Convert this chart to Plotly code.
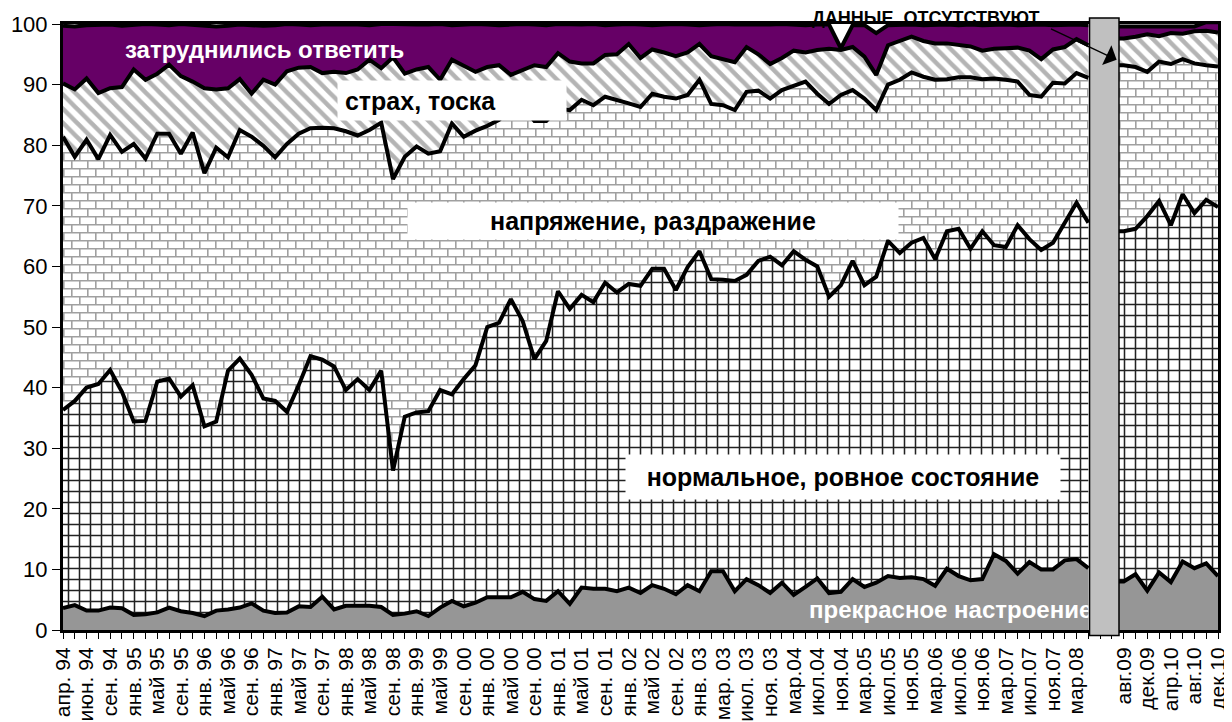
import plotly.graph_objects as go

# ---------------- data (cumulative boundaries, %, survey order) ----------------
# tick labels on every second survey; index 88 = missing survey (gap)
tick_index = list(range(0, 87, 2)) + list(range(90, 99, 2))
tick_labels = ["апр. 94", "июн. 94", "сен. 94", "янв. 95", "май 95", "сен. 95", "янв. 96",
               "май 96", "сен. 96", "янв. 97", "май 97", "сен. 97", "янв. 98", "май 98",
               "сен. 98", "янв. 99", "май 99", "сен. 00", "янв. 00", "май 00", "сен. 00",
               "янв. 01", "май 01", "сен. 01", "янв. 02", "май 02", "сен. 02", "янв. 03",
               "мар. 03", "июл. 03", "ноя. 03", "мар.04", "июл.04", "ноя.04", "мар.05",
               "июл.05", "ноя.05", "мар.06", "июл.06", "ноя.06", "мар.07", "июл.07",
               "ноя.07", "мар.08", "авг.09", "дек.09", "апр.10", "авг.10", "дек.10"]

# "прекрасное настроение"
excellent = [3.6, 4.1, 3.2, 3.2, 3.7, 3.6, 2.5, 2.6, 2.9, 3.7,
             3.1, 2.8, 2.3, 3.2, 3.4, 3.7, 4.4, 3.2, 2.8, 2.9,
             3.9, 3.8, 5.5, 3.4, 4.0, 4.0, 4.0, 3.8, 2.5, 2.7,
             3.1, 2.3, 3.7, 4.8, 3.9, 4.5, 5.4, 5.4, 5.4, 6.3,
             5.1, 4.8, 6.4, 4.3, 7.0, 6.8, 6.8, 6.4, 7.0, 6.1,
             7.4, 6.8, 5.9, 7.4, 6.4, 9.7, 9.7, 6.4, 8.4, 7.4,
             6.1, 7.8, 5.8, 7.1, 8.5, 6.1, 6.3, 8.4, 7.1, 7.8,
             8.9, 8.6, 8.7, 8.4, 7.3, 10.1, 8.9, 8.2, 8.4, 12.5,
             11.4, 9.3, 11.2, 10.0, 10.0, 11.5, 11.7, 10.2, None, 8.0,
             8.0, 9.2, 6.5, 9.5, 7.9, 11.3, 10.2, 11.0, 8.9]

# upper edge of "нормальное, ровное состояние"
normal_top = [36.3, 37.8, 40.0, 40.6, 42.9, 39.3, 34.4, 34.5, 41.0, 41.5,
              38.5, 40.4, 33.6, 34.4, 42.8, 44.8, 42.1, 38.2, 37.8, 36.0,
              40.4, 45.2, 44.6, 43.5, 39.6, 41.4, 39.6, 42.8, 26.3, 35.2,
              35.9, 36.1, 39.6, 38.9, 41.4, 43.7, 50.0, 50.7, 54.6, 51.0,
              44.7, 47.7, 55.9, 53.0, 55.3, 54.1, 57.3, 55.7, 57.1, 56.8,
              59.6, 59.6, 56.1, 59.9, 62.5, 57.9, 57.8, 57.6, 58.6, 60.9,
              61.6, 60.2, 62.5, 61.1, 60.0, 55.0, 56.9, 60.9, 56.9, 58.3,
              64.2, 62.2, 63.9, 64.7, 61.2, 65.8, 66.2, 62.9, 65.8, 63.5,
              63.2, 66.8, 64.5, 62.7, 63.9, 67.2, 70.5, 67.2, None, 65.8,
              65.8, 66.2, 68.3, 70.8, 66.8, 71.9, 68.8, 71.0, 69.8]

# upper edge of "напряжение, раздражение"
tension_top = [81.4, 78.1, 80.9, 77.7, 81.7, 78.9, 80.2, 77.8, 81.9, 81.9,
               78.6, 82.1, 75.4, 79.6, 78.0, 82.5, 81.4, 79.9, 78.0, 80.2,
               81.9, 82.8, 82.9, 82.8, 82.3, 81.6, 82.5, 83.7, 74.4, 78.1,
               79.8, 78.6, 79.0, 83.6, 81.4, 82.4, 83.2, 84.2, 86.0, 86.5,
               84.0, 84.0, 86.0, 85.8, 87.5, 86.6, 88.0, 87.5, 86.9, 86.3,
               88.5, 88.0, 87.7, 88.3, 90.8, 86.8, 86.6, 85.8, 88.8, 89.0,
               87.7, 89.1, 89.8, 90.5, 88.5, 86.8, 88.3, 89.1, 87.7, 85.8,
               90.0, 90.8, 92.0, 91.3, 90.8, 90.9, 91.2, 91.2, 90.9, 91.0,
               90.8, 90.5, 88.3, 88.0, 90.3, 90.2, 91.9, 91.1, None, 93.2,
               93.2, 92.9, 92.1, 93.8, 93.4, 94.2, 93.5, 93.2, 93.0]

# upper edge of "страх, тоска"
fear_top = [90.2, 89.2, 91.0, 88.6, 89.4, 89.6, 92.5, 90.8, 91.8, 93.3,
            91.4, 90.5, 89.4, 89.2, 89.4, 90.9, 88.5, 90.8, 90.0, 92.2,
            92.8, 92.9, 91.9, 92.1, 91.9, 92.5, 94.1, 92.7, 94.5, 91.8,
            92.5, 92.9, 90.8, 94.1, 93.1, 92.1, 92.9, 93.2, 91.6, 92.4,
            93.2, 92.9, 95.2, 93.8, 93.5, 93.5, 94.9, 95.0, 96.7, 94.4,
            95.8, 95.3, 94.7, 95.3, 96.7, 94.7, 94.2, 93.7, 96.2, 95.0,
            93.4, 94.4, 95.6, 95.3, 95.7, 95.9, 95.7, 96.2, 94.6, 91.6,
            96.5, 97.2, 97.9, 97.2, 96.8, 96.8, 96.6, 96.3, 95.6, 95.9,
            96.0, 96.1, 95.6, 94.2, 95.8, 96.2, 97.5, 96.5, None, 97.6,
            97.6, 97.9, 98.3, 98.0, 98.5, 98.4, 98.8, 98.9, 98.6]

# upper edge of "затруднились ответить" (total)
total_top = [99.7, 99.6, 99.8, 99.8, 99.9, 99.7, 99.8, 100.0, 99.9, 99.8,
             100.0, 99.9, 99.8, 99.6, 99.7, 99.9, 99.8, 99.7, 99.8, 100.0,
             99.9, 99.8, 99.9, 99.9, 100.0, 99.9, 99.8, 100.0, 100.0, 99.9,
             99.9, 99.9, 100.0, 99.8, 99.9, 100.0, 99.9, 99.8, 99.9, 100.0,
             99.9, 99.8, 100.0, 99.9, 99.9, 100.0, 99.8, 99.9, 100.0, 99.9,
             99.8, 99.9, 100.0, 99.9, 99.8, 99.9, 100.0, 99.9, 99.9, 99.8,
             99.9, 100.0, 99.9, 99.8, 99.9, 99.9, 96.0, 99.8, 99.8, 98.5,
             99.8, 99.9, 99.9, 99.8, 99.9, 99.9, 99.8, 99.9, 99.8, 99.9,
             99.9, 99.8, 99.9, 99.9, 99.8, 99.9, 99.9, 99.8, None, 99.6,
             99.6, 99.5, 99.6, 99.6, 99.5, 99.6, 99.6, 100.3, 100.3]

survey = list(range(len(excellent)))

# ---------------- styling ----------------
FONT = "Arial, 'Liberation Sans', sans-serif"
PURPLE = "#660066"
GREY = "#969696"
LINE = dict(color="black", width=4)

grid_pat = dict(shape="+", size=11, solidity=0.26, fgcolor="#222222",
                bgcolor="white", fillmode="replace")
stripe_pat = dict(shape="\\", size=10, solidity=0.45, fgcolor="#b4b4b4",
                  bgcolor="white", fillmode="replace")
try:
    brick_pat = go.scatter.Fillpattern(
        path="M0,0H16V1.6H0Z M0,8H16V9.6H0Z M0,0H1.6V8H0Z M8,8H9.6V16H8Z",
        size=16, fgcolor="#a0a0a0", bgcolor="white", fillmode="replace")
except (ValueError, TypeError):
    brick_pat = go.scatter.Fillpattern(shape="-", size=8, solidity=0.2, fgcolor="#a0a0a0",
                                       bgcolor="white", fillmode="replace")

fig = go.Figure()

segments = [slice(0, 88), slice(89, 99)]
for seg in segments:
    xs = survey[seg]
    fig.add_trace(go.Scatter(x=xs, y=excellent[seg], mode="lines", line=LINE,
                             fill="tozeroy", fillcolor=GREY, hoverinfo="skip"))
    fig.add_trace(go.Scatter(x=xs, y=normal_top[seg], mode="lines", line=LINE,
                             fill="tonexty", fillpattern=grid_pat, hoverinfo="skip"))
    fig.add_trace(go.Scatter(x=xs, y=tension_top[seg], mode="lines", line=LINE,
                             fill="tonexty", fillpattern=brick_pat, hoverinfo="skip"))
    fig.add_trace(go.Scatter(x=xs, y=fear_top[seg], mode="lines", line=LINE,
                             fill="tonexty", fillpattern=stripe_pat, hoverinfo="skip"))
    fig.add_trace(go.Scatter(x=xs, y=total_top[seg], mode="lines", line=LINE,
                             fill="tonexty", fillcolor=PURPLE, hoverinfo="skip"))

# label inside the grey band (drawn below the gap bar)
fig.add_trace(go.Scatter(x=[63.3], y=[3.0], mode="text",
                         text=["<b>прекрасное настроение</b>"], textposition="middle right",
                         textfont=dict(family=FONT, size=24, color="white"),
                         hoverinfo="skip"))

# gap bar (missing data)
fig.add_shape(type="rect", xref="x", yref="paper", x0=87.1, x1=89.6, y0=-0.009, y1=1.01,
              fillcolor="#c0c0c0", line=dict(color="black", width=1.5), layer="above")

ann = []
ann.append(dict(x=17.1, y=95.8, xref="x", yref="y", text="<b>затруднились ответить</b>",
                showarrow=False, font=dict(family=FONT, size=24, color="white")))
ann.append(dict(x=32.97, y=87.4, xref="x", yref="y", text="<b>&nbsp;страх, тоска</b>",
                showarrow=False, align="left", width=228, height=39, bgcolor="white",
                borderpad=0, font=dict(family=FONT, size=25, color="black")))
ann.append(dict(x=50.1, y=67.5, xref="x", yref="y", text="<b>напряжение, раздражение</b>",
                showarrow=False, width=490, height=36, bgcolor="white", borderpad=0,
                font=dict(family=FONT, size=25, color="black")))
ann.append(dict(x=66.2, y=25.25, xref="x", yref="y", text="<b>нормальное, ровное состояние</b>",
                showarrow=False, width=434, height=44, bgcolor="white", borderpad=0,
                font=dict(family=FONT, size=25, color="black")))
ann.append(dict(x=73.2, y=1.01, xref="x", yref="paper", yanchor="middle",
                text="<b>ДАННЫЕ  ОТСУТСТВУЮТ</b>", showarrow=False,
                font=dict(family=FONT, size=18, color="black")))
ann.append(dict(x=89.4, y=94.1, xref="x", yref="y", ax=83.7, ay=99.3, axref="x", ayref="y",
                text="", showarrow=True, arrowhead=1, arrowsize=2.6, arrowwidth=1.4,
                arrowcolor="black"))

# the page body keeps its default 8 px margin, so the figure is 8 px smaller each way
fig.update_layout(
    width=1224, height=714,
    margin=dict(l=55, r=14, t=16, b=92),
    paper_bgcolor="white", plot_bgcolor="white",
    showlegend=False, template="none",
    annotations=ann,
    font=dict(family=FONT, color="black"),
)
fig.update_xaxes(range=[0, 98], tickmode="array", tickvals=tick_index, ticktext=tick_labels,
                 tickangle=-90, tickfont=dict(family=FONT, size=21, color="black"),
                 ticks="outside", ticklen=6, tickwidth=1.2, tickcolor="black",
                 minor=dict(ticks="outside", tickmode="linear", tick0=0, dtick=1, ticklen=6,
                            tickwidth=1.2, tickcolor="black", showgrid=False),
                 showgrid=False, zeroline=False, showline=True, linewidth=3, linecolor="black",
                 mirror=True, automargin=False)
fig.update_yaxes(range=[0, 100], tickmode="linear", tick0=0, dtick=10,
                 tickfont=dict(family=FONT, size=22, color="black"),
                 ticks="outside", ticklen=8, tickwidth=1.2, tickcolor="black",
                 showgrid=False, zeroline=False, showline=True, linewidth=3, linecolor="black",
                 mirror=True, automargin=False)

fig.write_html("out.html")
